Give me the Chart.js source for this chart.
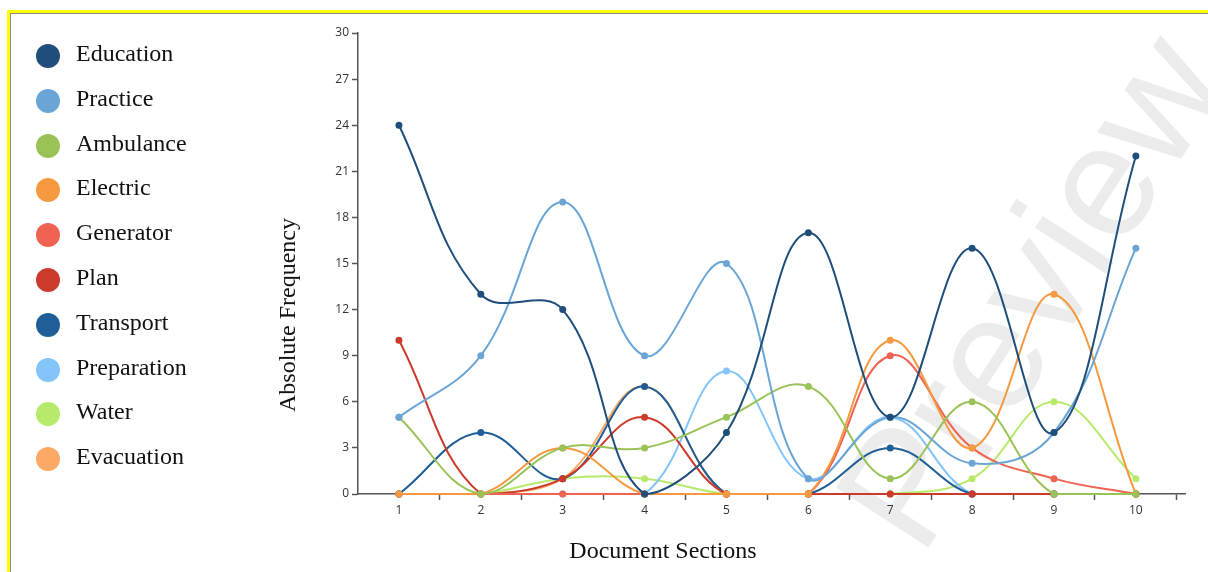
<!DOCTYPE html>
<html>
<head>
<meta charset="utf-8">
<script src="https://cdn.jsdelivr.net/npm/chart.js@4.4.1/dist/chart.umd.min.js"></script>
<style>
html,body{margin:0;padding:0;background:#fff;width:1208px;height:572px;overflow:hidden;}
body{position:relative;font-family:'Liberation Serif','Times New Roman',serif;}
#frame{position:absolute;left:7px;top:10px;width:1400px;height:800px;border-top:3px solid #ffff00;border-left:3px solid #ffff00;}
#frame2{position:absolute;left:10px;top:13px;width:1400px;height:800px;border-top:1px solid #8a8a8a;border-left:1px solid #8a8a8a;}
#wm{position:absolute;left:1030px;top:290px;transform:translate(-50%,-50%) rotate(-57deg);font:160px 'Liberation Sans',Arial,sans-serif;color:#ececec;white-space:nowrap;}
#c{position:absolute;left:0;top:0;}
.dot{position:absolute;width:24px;height:24px;border-radius:50%;left:36px;}
.lab{position:absolute;left:76px;font-size:24px;line-height:28px;color:#111;white-space:nowrap;}
.ttl{position:absolute;font-size:24px;line-height:28px;color:#111;white-space:nowrap;transform:translate(-50%,-50%);}
</style>
</head>
<body>
<div id="frame"></div><div id="frame2"></div>
<div id="wm">Preview</div>
<canvas id="c" width="1208" height="572"></canvas>
<div id="legend"></div>
<div class="ttl" style="left:663px;top:550px;">Document Sections</div>
<div class="ttl" style="left:287px;top:315px;transform:translate(-50%,-50%) rotate(-90deg);">Absolute Frequency</div>
<script>
// ---- data ----
const categories = [1, 2, 3, 4, 5, 6, 7, 8, 9, 10];
const seriesNames = ['Education', 'Practice', 'Ambulance', 'Electric', 'Generator', 'Plan', 'Transport', 'Preparation', 'Water', 'Evacuation'];
const education   = [24, 13, 12, 0, 4, 17, 5, 16, 4, 22];
const practice    = [5, 9, 19, 9, 15, 1, 5, 2, 4, 16];
const ambulance   = [5, 0, 3, 3, 5, 7, 1, 6, 0, 0];
const electric    = [0, 0, 3, 0, 0, 0, 10, 3, 13, 0];
const generator   = [0, 0, 0, 0, 0, 0, 9, 3, 1, 0];
const plan        = [10, 0, 1, 5, 0, 0, 0, 0, 0, 0];
const transport   = [0, 4, 1, 7, 0, 0, 3, 0, 0, 0];
const preparation = [0, 0, 0, 0, 8, 1, 5, 0, 0, 0];
const water       = [0, 0, 1, 1, 0, 0, 0, 1, 6, 1];
const evacuation  = [0, 0, 1, 7, 0, 0, 0, 0, 0, 0];
const yTickLabels = [0, 3, 6, 9, 12, 15, 18, 21, 24, 27, 30];

// ---- styles ----
const seriesValues = [education, practice, ambulance, electric, generator, plan, transport, preparation, water, evacuation];
const seriesColors = ['#1f4e7a', '#6aa5d6', '#99c257', '#f59a40', '#ee6352', '#cb3a2a', '#1f5e96', '#83c5fb', '#b7ea6b', '#fda865'];

// legend (HTML)
const legendEl = document.getElementById('legend');
seriesNames.forEach((name, i) => {
  const cy = 56 + i * 44.8;
  const d = document.createElement('div');
  d.className = 'dot';
  d.style.top = (cy - 12) + 'px';
  d.style.background = seriesColors[i];
  legendEl.appendChild(d);
  const t = document.createElement('div');
  t.className = 'lab';
  t.style.top = (cy - 17) + 'px';
  t.textContent = name;
  legendEl.appendChild(t);
});

const datasets = seriesNames.map((name, i) => ({
  label: name,
  data: categories.map((c, k) => ({x: c, y: seriesValues[i][k]})),
  borderColor: seriesColors[i],
  backgroundColor: seriesColors[i],
  borderWidth: 2,
  pointRadius: 3.5,
  pointBorderWidth: 0,
  pointHoverRadius: 3.5,
  tension: 0.4,
  fill: false,
  clip: 8
}));

const tickFont = {family: "'Open Sans','DejaVu Sans',sans-serif", size: 12};

new Chart(document.getElementById('c'), {
  type: 'line',
  data: {datasets},
  options: {
    responsive: false,
    animation: false,
    events: [],
    layout: {padding: {left: 300, right: 23, top: 33, bottom: 0}},
    plugins: {legend: {display: false}, tooltip: {enabled: false}},
    scales: {
      x: {
        type: 'linear',
        min: 0.5,
        max: 10.6,
        afterBuildTicks: s => {
          const t = [];
          categories.forEach(c => { t.push({value: c}); t.push({value: c + 0.5}); });
          s.ticks = t;
        },
        afterFit: s => { s.height = 78; },
        border: {color: '#555', width: 1.5},
        grid: {
          drawOnChartArea: false,
          tickLength: 6,
          tickWidth: 1.5,
          tickColor: ctx => (ctx.tick && Number.isInteger(ctx.tick.value)) ? 'rgba(0,0,0,0)' : '#555'
        },
        ticks: {
          autoSkip: false,
          maxRotation: 0,
          padding: 3,
          color: '#333',
          font: tickFont,
          callback: v => categories.includes(v) ? String(v) : ''
        }
      },
      y: {
        min: 0,
        max: 30,
        afterBuildTicks: s => { s.ticks = yTickLabels.map(v => ({value: v})); },
        afterFit: s => { s.width = 58; },
        border: {color: '#555', width: 1.5},
        grid: {drawOnChartArea: false, tickLength: 6, tickWidth: 1.5, tickColor: '#555'},
        ticks: {padding: 3, color: '#333', font: tickFont}
      }
    }
  }
});
</script>
</body>
</html>
